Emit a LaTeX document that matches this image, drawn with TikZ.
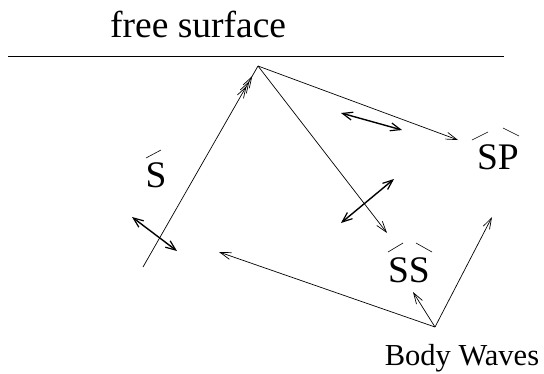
\documentclass[tikz,border=0pt]{standalone}
\usepackage{fontspec}
\setmainfont{Liberation Serif}
\usetikzlibrary{arrows.meta,decorations.markings}
\tikzset{
  ray/.style={line width=0.7pt,-{Straight Barb[length=11pt,width=7pt,line width=0.7pt]}},
  pol/.style={line width=1.4pt,{Straight Barb[length=10pt,width=8pt,line width=1.2pt]}-{Straight Barb[length=10pt,width=8pt,line width=1.2pt]}},
  acc/.style={line width=0.6pt},
  big/.style={inner sep=0pt,font=\fontsize{37.5}{40}\selectfont},
  mid/.style={inner sep=0pt,font=\fontsize{30.5}{34}\selectfont}
}
\begin{document}
\begin{tikzpicture}[x=1pt,y=-1pt]
\useasboundingbox (0,0) rectangle (544,373);
% free surface
\coordinate (fl) at (8,56);
\coordinate (fr) at (504,56);
\draw[line width=0.8pt] (fl) -- (fr);
\node[big,anchor=base west] (fs) at (110,37) {free surface};
% rays
\coordinate (A) at (258,66);
\coordinate (B) at (143,267);
\coordinate (SStip) at (387,233);
\coordinate (SPtip) at (458,140);
\draw[line width=0.7pt,
  postaction={decorate,decoration={markings,
    mark=at position 0.90 with {\arrow{Straight Barb[length=11pt,width=7pt,line width=0.7pt]}},
    mark=at position 0.925 with {\arrow{Straight Barb[length=11pt,width=7pt,line width=0.7pt]}},
    mark=at position 0.95 with {\arrow{Straight Barb[length=11pt,width=7pt,line width=0.7pt]}}}}]
  (B) -- (A);
\draw[ray] (A) -- (SStip);
\draw[ray] (A) -- (SPtip);
% body waves source
\coordinate (O) at (435,327);
\coordinate (t1) at (219,252);
\coordinate (t2) at (413,292);
\coordinate (t3) at (492,217);
\draw[ray] (O) -- (t1);
\draw[ray] (O) -- (t2);
\draw[ray] (O) -- (t3);
% polarization arrows
\coordinate (p1a) at (132,217); \coordinate (p1b) at (177,251);
\coordinate (p2a) at (341,113); \coordinate (p2b) at (402,130);
\coordinate (p3a) at (394,179); \coordinate (p3b) at (341,223);
\draw[pol] (p1a) -- (p1b);
\draw[pol] (p2a) -- (p2b);
\draw[pol] (p3a) -- (p3b);
% labels
\node[big,anchor=base] (S) at (156,187) {S};
\draw[acc] (146,158) -- (161,150);
\node[big,anchor=base] (SP) at (498,169) {SP};
\draw[acc] (472,140) -- (488,132);
\draw[acc] (503,128) -- (519,136);
\node[big,anchor=base] (SS) at (409,282) {SS};
\draw[acc] (388,252) -- (403,243);
\draw[acc] (416,243) -- (432,252);
\node[mid,anchor=base] (bw) at (462,365) {Body Waves};
\end{tikzpicture}
\end{document}
